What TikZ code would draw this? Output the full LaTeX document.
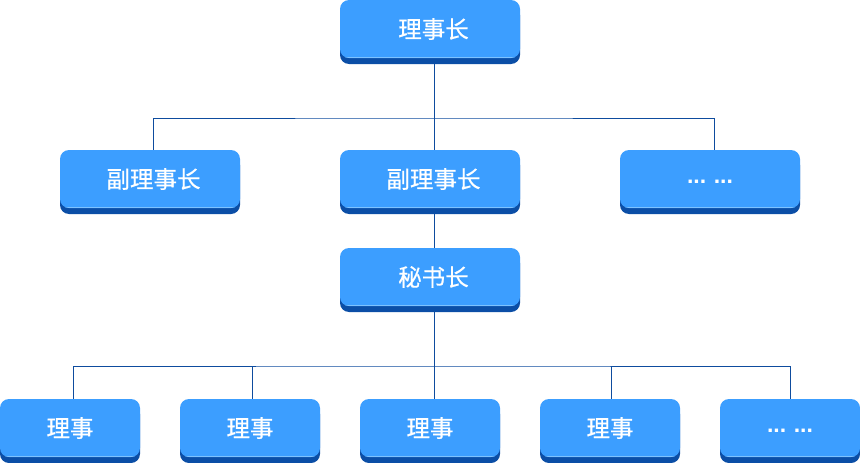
\documentclass[tikz,border=0pt]{standalone}
\usepackage{fontspec}
\newfontfamily\cjk[FakeBold=0.6]{Noto Sans CJK SC}
\newfontfamily\dotfont{Liberation Sans}
\usetikzlibrary{shadows,backgrounds,calc}
\definecolor{facec}{HTML}{3C9EFF}
\definecolor{darkc}{HTML}{0B4EA6}
\definecolor{linec}{HTML}{0E4C9E}
\definecolor{hilite}{HTML}{7DC2FF}
\tikzset{
  boxbase/.style={rectangle, rounded corners=9pt, fill=facec, text=white,
    minimum height=58pt, inner sep=0pt, font=\cjk\fontsize{23.5}{23.5}\selectfont,
    drop shadow={shadow xshift=0pt, shadow yshift=-6pt, fill=darkc, opacity=1},
    path picture={\draw[hilite, line width=1.2pt]
      ([yshift=0.6pt]path picture bounding box.south west) --
      ([yshift=0.6pt]path picture bounding box.south east);}},
  wbox/.style={boxbase, minimum width=180pt},
  nbox/.style={boxbase, minimum width=140pt},
  dots/.style={font=\dotfont\bfseries\fontsize{23}{23}\selectfont},
  conn/.style={draw=linec, line width=1pt}
}
\newcommand{\dotstext}{\raisebox{-4.5pt}[0pt][0pt]{...\hspace{7.5pt}...}}
\begin{document}
\begin{tikzpicture}[x=1pt,y=-1pt]
\useasboundingbox (0,0) rectangle (860,463);
\node[wbox] (top) at (430,29) {\hspace*{7pt}理事长};
\node[wbox] (v1) at (150,179) {\hspace*{7pt}副理事长};
\node[wbox] (v2) at (430,179) {\hspace*{7pt}副理事长};
\node[wbox, dots] (v3) at (710,179) {\dotstext};
\node[wbox] (sec) at (430,277) {\hspace*{7pt}秘书长};
\node[nbox] (d1) at (70,428) {理事};
\node[nbox] (d2) at (250,428) {理事};
\node[nbox] (d3) at (430,428) {理事};
\node[nbox] (d4) at (610,428) {理事};
\node[nbox, dots] (d5) at (790,428) {\dotstext};
\coordinate (bar1) at (434,118);
\coordinate (bar2) at (434.5,366);
\begin{scope}[on background layer]
\draw[conn] ([xshift=4pt]top.south) -- ([xshift=4pt]v2.north);
\draw[conn] ([xshift=3pt]v1.north) |- (bar1) -| ([xshift=4pt]v3.north);
\draw[conn] ([xshift=4pt]v2.south) -- ([xshift=4pt]sec.north);
\draw[conn] ([xshift=4.5pt]sec.south) -- ([xshift=4.5pt]d3.north);
\draw[conn] ([xshift=3pt]d1.north) |- (bar2) -| (d5.north);
\draw[conn] ([xshift=2pt]d2.north) -- ([xshift=2pt]d2.north |- bar2);
\draw[conn] ([xshift=1.5pt]d4.north) -- ([xshift=1.5pt]d4.north |- bar2);
\end{scope}
\end{tikzpicture}
\end{document}
